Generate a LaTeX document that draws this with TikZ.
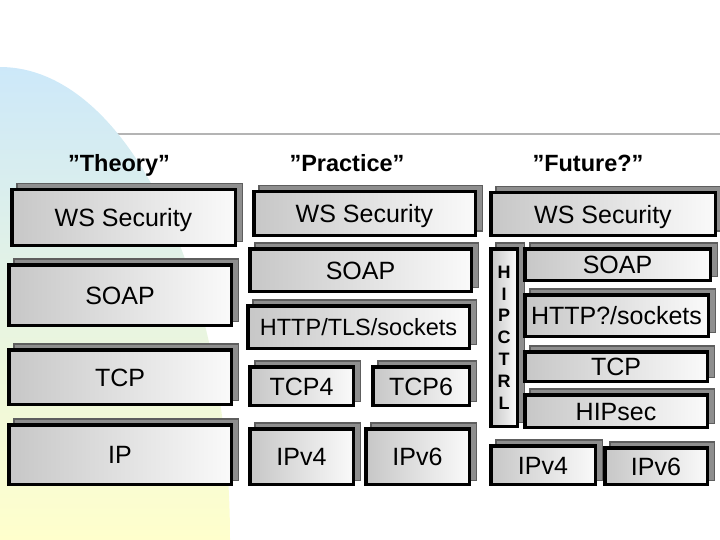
\documentclass[tikz,border=0pt]{standalone}
\usepackage{fontspec}
\setmainfont{Liberation Sans}
\definecolor{bgblue}{HTML}{CCE8FA}
\definecolor{bgyel}{HTML}{FFFFCC}
\definecolor{shfill}{HTML}{8E8E8E}
\definecolor{shdraw}{HTML}{5E5E5E}
\definecolor{rulegray}{HTML}{B4B4B4}
\tikzset{
  layer/.style={draw=black, line width=3.5pt, left color=black!22, right color=black!2,
    inner sep=0pt, text height=18pt, text depth=0pt, font=\fontsize{25}{30}\selectfont},
  shadowrect/.style={fill=shfill, draw=shdraw, line width=1.5pt},
  header/.style={font=\bfseries\fontsize{23.5}{28}\selectfont, anchor=base, inner sep=0pt},
  vtext/.style={font=\bfseries\fontsize{18}{21.8}\selectfont, align=center, text height=, text depth=},
}
% [options]{name}{x1}{y1}{x2}{y2}{text}  (outer edges, pixel coordinates)
\newcommand\lay[7][]{%
  \draw[shadowrect] ({#3+6+0.75},{#4-5+0.75}) rectangle ({#5+6-0.75},{#6-5-0.75});
  \node[layer,minimum width={#5-#3-3.5},minimum height={#6-#4-3.5},#1] (#2)
    at ({(#3+#5)/2},{(#4+#6)/2}) {#7};}
\begin{document}
\begin{tikzpicture}[x=1pt,y=-1pt]
\useasboundingbox (0,0) rectangle (720,540);
% background
\draw[rulegray, line width=2pt] (0,134) -- (720,134);
\begin{scope}
  \clip (0,540) ellipse [x radius=230, y radius=473];
  \shade[top color=bgblue, bottom color=bgyel] (0,60) rectangle (235,540);
\end{scope}
% headers
\node[header] (hth) at (119,172) {”Theory”};
\node[header] (hpr) at (347,172) {”Practice”};
\node[header] (hfu) at (588,172) {”Future?”};
% Theory
\lay{tws}{10}{188}{237}{247}{WS Security}
\lay{tsoap}{7}{263}{233}{327}{SOAP}
\lay{ttcp}{7}{348}{233}{406}{TCP}
\lay{tip}{7}{423}{233}{486}{IP}
% Practice
\lay{pws}{252}{190}{477}{237}{WS Security}
\lay{psoap}{248}{247}{473}{293}{SOAP}
\lay[font=\fontsize{23.5}{28}\selectfont, text height=17pt]{phttp}{246}{304}{471}{350}{HTTP/TLS/sockets}
\lay{ptcpf}{248}{365}{355}{407}{TCP4}
\lay{ptcps}{371}{365}{471}{407}{TCP6}
\lay{pipf}{248}{427}{355}{486}{IPv4}
\lay{pips}{364}{427}{471}{486}{IPv6}
% Future
\lay{fws}{489}{191}{717}{237}{WS Security}
\lay[vtext]{fctrl}{489}{247}{519}{428}{H\\I\\P\\C\\T\\R\\L}
\lay{fsoap}{523}{247}{712}{282}{SOAP}
\lay{fhttp}{523}{293}{710}{338}{HTTP?/sockets}
\lay{ftcp}{523}{350}{709}{383}{TCP}
\lay{fhip}{523}{393}{709}{429}{HIPsec}
\lay{fipf}{489}{444}{597}{486}{IPv4}
\lay{fips}{603}{446}{709}{486}{IPv6}
\end{tikzpicture}
\end{document}
